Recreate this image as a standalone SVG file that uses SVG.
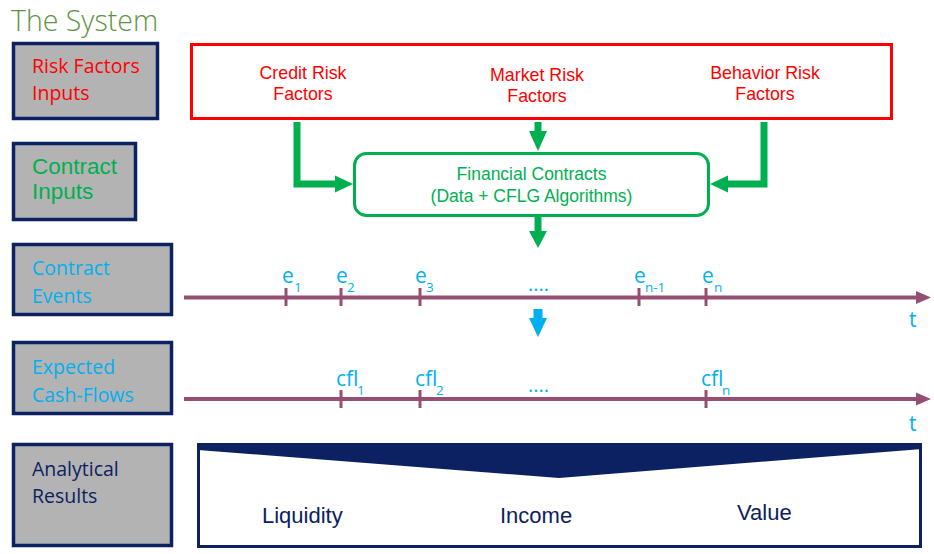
<svg xmlns="http://www.w3.org/2000/svg" width="934" height="554" viewBox="0 0 934 554">
<defs>
<style>
.cal{font-family:"Open Sans","Noto Sans","Liberation Sans",sans-serif}
.ari{font-family:"Liberation Sans",Arial,sans-serif}
.lbox{fill:#b3b3b3;stroke:#0c2161;stroke-width:3.5}
.red{fill:#ff0000}
.grn{fill:#00b050}
.blu{fill:#00b0f0}
.nav{fill:#0c2161}
.tl{stroke:#954f72;stroke-width:4;fill:none}
.tick{stroke:#954f72;stroke-width:3}
.garr{stroke:#00b050;stroke-width:7;fill:none}
.ev{font-size:21px}
.sub{font-size:13.5px}
.lt{font-size:19.5px}
.dots{font-size:20px}
</style>
</defs>
<rect width="934" height="554" fill="#ffffff"/>
<text x="11" y="31" class="cal" font-size="28.5" font-weight="300" fill="#5f9343">The System</text>

<g id="lbl-risk"><rect class="lbox" x="13.5" y="43.5" width="144" height="75"/><text class="cal red lt" x="32" y="73">Risk Factors</text><text class="cal red lt" x="32" y="100">Inputs</text></g>
<g id="lbl-contract"><rect class="lbox" x="13.5" y="143.5" width="122" height="76"/><text class="ari grn" font-size="22.5" x="32" y="174">Contract</text><text class="ari grn" font-size="22.5" x="32" y="199">Inputs</text></g>
<g id="lbl-events"><rect class="lbox" x="13.5" y="244.5" width="158" height="70"/><text class="cal blu lt" x="32" y="275">Contract</text><text class="cal blu lt" x="32" y="303">Events</text></g>
<g id="lbl-cash"><rect class="lbox" x="13.5" y="342.5" width="158" height="71"/><text class="cal blu lt" x="32" y="374">Expected</text><text class="cal blu lt" x="32" y="402">Cash-Flows</text></g>
<g id="lbl-results"><rect class="lbox" x="13.5" y="444.5" width="158" height="101"/><text class="cal nav lt" x="32" y="476">Analytical</text><text class="cal nav lt" x="32" y="503">Results</text></g>

<g id="risk-factors">
<rect x="191.5" y="44.5" width="700" height="74" fill="#ffffff" stroke="#ff0000" stroke-width="3"/>
<text class="ari red" font-size="17.8" text-anchor="middle"><tspan x="303" y="79">Credit Risk</tspan><tspan x="303" y="100">Factors</tspan></text>
<text class="ari red" font-size="17.8" text-anchor="middle"><tspan x="537" y="81">Market Risk</tspan><tspan x="537" y="102">Factors</tspan></text>
<text class="ari red" font-size="17.8" text-anchor="middle"><tspan x="765" y="79">Behavior Risk</tspan><tspan x="765" y="100">Factors</tspan></text>
</g>

<g id="financial-contracts">
<rect x="354.5" y="153.5" width="354" height="62" rx="12" fill="#ffffff" stroke="#00b050" stroke-width="3"/>
<text class="ari grn" font-size="17.5" text-anchor="middle"><tspan x="531.5" y="180">Financial Contracts</tspan><tspan x="531.5" y="202">(Data + CFLG Algorithms)</tspan></text>
</g>

<g id="connectors">
<path class="garr" d="M297 122 V184 H336"/>
<polygon class="grn" points="335,175.5 353,184 335,192.5"/>
<path class="garr" d="M538 122 V132"/>
<polygon class="grn" points="529,131 547,131 538,151"/>
<path class="garr" d="M764 122 V184 H727"/>
<polygon class="grn" points="728,175.5 710,184 728,192.5"/>
<path class="garr" d="M538 217 V233"/>
<polygon class="grn" points="529,231 547,231 538,248"/>
<rect class="blu" x="533.5" y="309" width="9" height="10"/>
<polygon class="blu" points="529,318 547,318 538,337"/>
</g>

<g id="events-timeline">
<line class="tl" x1="184" y1="297.5" x2="918" y2="297.5"/>
<polygon fill="#954f72" points="916,291 931,297.5 916,304"/>
<line class="tick" x1="286" y1="288" x2="286" y2="306"/>
<line class="tick" x1="341" y1="288" x2="341" y2="306"/>
<line class="tick" x1="420" y1="288" x2="420" y2="306"/>
<line class="tick" x1="639" y1="288" x2="639" y2="306"/>
<line class="tick" x1="706" y1="288" x2="706" y2="306"/>
<text class="cal blu ev" x="282" y="283">e</text><text class="cal blu sub" x="294" y="292">1</text>
<text class="cal blu ev" x="336" y="283">e</text><text class="cal blu sub" x="347" y="292">2</text>
<text class="cal blu ev" x="415" y="283">e</text><text class="cal blu sub" x="426" y="292">3</text>
<text class="cal blu dots" x="528" y="291">....</text>
<text class="cal blu ev" x="634" y="283">e</text><text class="cal blu sub" x="645" y="292">n-1</text>
<text class="cal blu ev" x="702" y="283">e</text><text class="cal blu sub" x="714" y="292">n</text>
<text class="cal blu ev" x="909" y="327">t</text>
</g>

<g id="cashflow-timeline">
<line class="tl" x1="184" y1="399" x2="918" y2="399"/>
<polygon fill="#954f72" points="916,392.5 931,399 916,405.5"/>
<line class="tick" x1="341" y1="390" x2="341" y2="408"/>
<line class="tick" x1="420" y1="390" x2="420" y2="408"/>
<line class="tick" x1="706" y1="390" x2="706" y2="408"/>
<text class="cal blu ev" x="336" y="386">cfl</text><text class="cal blu sub" x="357" y="395">1</text>
<text class="cal blu ev" x="415" y="386">cfl</text><text class="cal blu sub" x="436" y="395">2</text>
<text class="cal blu dots" x="528" y="392">....</text>
<text class="cal blu ev" x="701" y="386">cfl</text><text class="cal blu sub" x="722" y="395">n</text>
<text class="cal blu ev" x="909" y="431">t</text>
</g>

<g id="analytical-results">
<rect x="198.5" y="444.5" width="722" height="102" fill="#ffffff" stroke="#0c2161" stroke-width="3"/>
<polygon class="nav" points="198,443 922,443 922,449 559,478 198,450"/>
<text class="ari nav" font-size="22" x="262" y="523">Liquidity</text>
<text class="ari nav" font-size="22" x="500" y="523">Income</text>
<text class="ari nav" font-size="22" x="737" y="520">Value</text>
</g>
</svg>
